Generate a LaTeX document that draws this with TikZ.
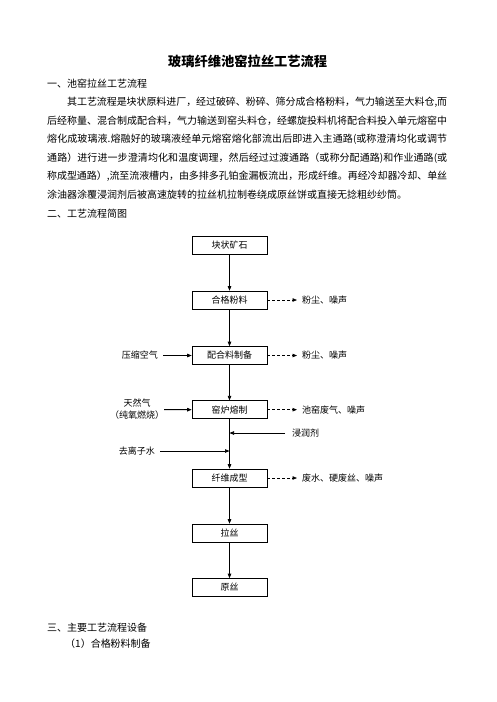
\documentclass[tikz,border=0pt]{standalone}
\usepackage{fontspec}
\setmainfont{Noto Sans CJK SC}
\usetikzlibrary{arrows.meta}
\XeTeXlinebreaklocale "zh"
\XeTeXlinebreakskip=0pt plus 2pt minus 0.4pt

\begin{document}
\begin{tikzpicture}[x=1pt,y=-1pt,
  every node/.style={inner sep=0pt},
  bodyline/.style={anchor=west,text width=400pt,align=justify,
    font=\fontsize{10}{12}\selectfont,
    execute at begin node={\noindent\parfillskip=0pt\relax}},
  plaintxt/.style={anchor=west,font=\fontsize{10}{12}\selectfont},
  stepbox/.style={draw,line width=0.6pt,minimum width=75pt,minimum height=18pt,
    font=\fontsize{9}{11}\selectfont},
  sidetxt/.style={font=\fontsize{9}{12}\selectfont},
  flow/.style={line width=0.7pt,-{Triangle[length=4.5pt,width=3.5pt]}},
  waste/.style={flow,dash pattern=on 3pt off 2pt,shorten >=5pt}]
\useasboundingbox (0,0) rectangle (496,702);

% heading and text
\node[font=\fontsize{13.25}{15}\selectfont\bfseries] (title) at (247.5,61) {玻璃纤维池窑拉丝工艺流程};
\node[plaintxt] (sec1) at (47,83.3) {一、池窑拉丝工艺流程};
\node[bodyline,text width=380pt] (par1) at (67,102.3) {其工艺流程是块状原料进厂，经过破碎、粉碎、筛分成合格粉料，气力输送至大料仓,而};
\node[bodyline] (par2) at (47,120.7) {后经称量、混合制成配合料，气力输送到窑头料仓，经螺旋投料机将配合料投入单元熔窑中};
\node[bodyline] (par3) at (47,139.3) {熔化成玻璃液.熔融好的玻璃液经单元熔窑熔化部流出后即进入主通路(或称澄清均化或调节};
\node[bodyline] (par4) at (47,157.7) {通路）进行进一步澄清均化和温度调理，然后经过过渡通路（或称分配通路)和作业通路(或};
\node[bodyline] (par5) at (47,176) {称成型通路）,流至流液槽内，由多排多孔铂金漏板流出，形成纤维。再经冷却器冷却、单丝};
\node[plaintxt] (par6) at (47,194.7) {涂油器涂覆浸润剂后被高速旋转的拉丝机拉制卷绕成原丝饼或直接无捻粗纱纱筒。};
\node[plaintxt] (sec2) at (47,213.3) {二、工艺流程简图};

% flow chart
\node[stepbox] (ore) at (229.5,245.5) {块状矿石};
\node[stepbox] (powder) at (229.5,300) {合格粉料};
\node[stepbox] (batch) at (229.5,355.5) {配合料制备};
\node[stepbox] (melt) at (229.5,409.7) {窑炉熔制};
\node[stepbox] (form) at (229.5,478) {纤维成型};
\node[stepbox] (drawing) at (229.5,533) {拉丝};
\node[stepbox] (strand) at (229.5,587.5) {原丝};

\draw[flow] (ore) -- (powder);
\draw[flow] (powder) -- (batch);
\draw[flow] (batch) -- (melt);
\draw[flow] (melt) -- (form);
\draw[flow] (form) -- (drawing);
\draw[flow] (drawing) -- (strand);

% wastes
\node[sidetxt,anchor=west] (dust1) at (302,300) {粉尘、噪声};
\node[sidetxt,anchor=west] (dust2) at (302,355.5) {粉尘、噪声};
\node[sidetxt,anchor=west] (fume) at (302,409.7) {池窑废气、噪声};
\node[sidetxt,anchor=west] (scrap) at (302,478) {废水、硬废丝、噪声};
\draw[waste] (powder) -- (dust1);
\draw[waste] (batch) -- (dust2);
\draw[waste] (melt) -- (fume);
\draw[waste] (form) -- (scrap);

% inputs
\node[sidetxt,anchor=east] (air) at (158,355.5) {压缩空气};
\node[sidetxt,align=center] (gas) at (137,409.5) {天然气\\（纯氧燃烧）};
\node[sidetxt,anchor=west] (sizing) at (292,433) {浸润剂};
\node[sidetxt,anchor=east] (water) at (155,451) {去离子水};
\draw[flow,shorten <=5pt] (air) -- (batch);
\draw[flow,line width=1pt] (gas.east) -- (melt.west);
\draw[flow,shorten <=7pt] (sizing.west) -- (sizing.west -| melt.center);
\draw[flow,shorten <=5pt] (water.east) -- (water.east -| melt.center);

% next section
\node[plaintxt] (sec3) at (47,628) {三、主要工艺流程设备};
\node[plaintxt] (sub1) at (65,643.3) {（1）合格粉料制备};
\end{tikzpicture}
\end{document}
